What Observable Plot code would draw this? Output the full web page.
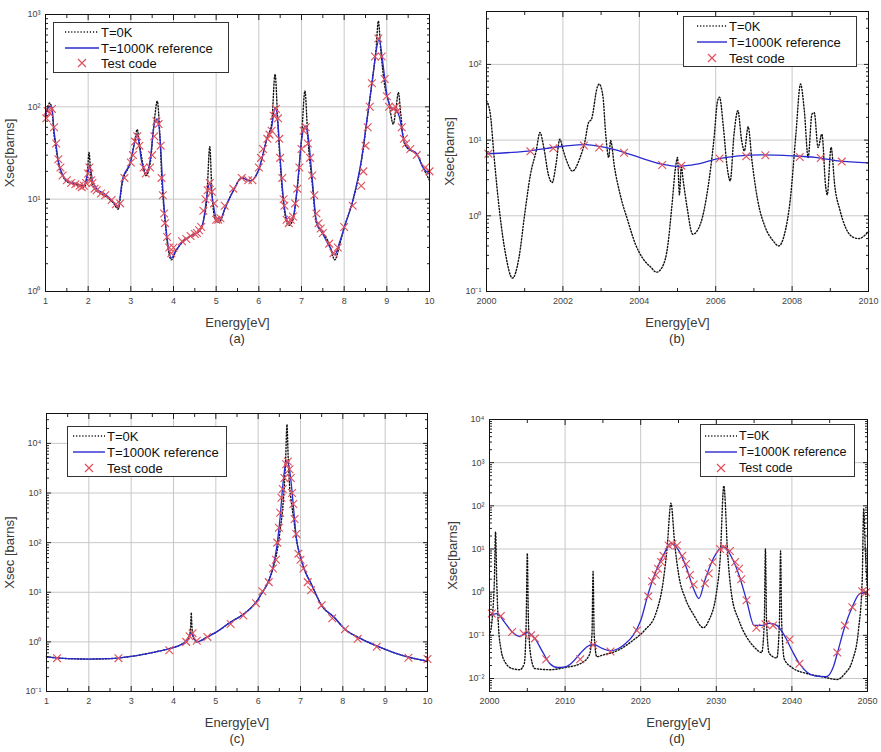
<!DOCTYPE html>
<html><head><meta charset="utf-8">
<script src="https://cdn.jsdelivr.net/npm/d3@7"></script>
<script src="https://cdn.jsdelivr.net/npm/@observablehq/plot@0.6"></script>
<style>
body{margin:0;background:#fff;font-family:"Liberation Sans",Arial,sans-serif}
#root{position:relative;width:881px;height:752px;overflow:hidden;background:#fff}
.panel{position:absolute}
.cap{position:absolute;font-size:13px;color:#333;transform:translate(-50%,-50%);white-space:nowrap}
.legend{position:absolute;border:1.5px solid #333;background:#fff;box-sizing:border-box}
.legend .row{position:absolute;font-size:13px;color:#111;line-height:1;transform:translateY(-50%);white-space:nowrap}
.legend svg{position:absolute;left:0;top:0;overflow:visible}
</style></head><body><div id="root"></div>
<script>
// ---------- Panel (a): 1-10 eV ----------
const a0K = [[1.0,80],[1.05,100],[1.1,110],[1.15,95],[1.2,50],[1.25,35],[1.3,25],[1.4,18],[1.5,15.5],[1.7,14.5],[1.9,13.5],[1.97,16],[2.02,32],[2.07,16],[2.15,13],[2.3,11.5],[2.5,10],[2.6,9],[2.7,7.8],[2.8,15],[3.0,26],[3.1,45],[3.15,57],[3.2,40],[3.3,22],[3.35,18],[3.45,24],[3.55,70],[3.62,115],[3.68,50],[3.73,15],[3.8,6],[3.85,3.5],[3.95,2.2],[4.05,2.7],[4.2,3.4],[4.4,4],[4.6,4.5],[4.7,5.8],[4.78,10],[4.85,37],[4.9,12],[4.98,6],[5.05,5.6],[5.1,5.8],[5.2,7.8],[5.4,12.3],[5.6,17],[5.8,15.8],[6.0,21],[6.2,47],[6.3,65],[6.38,226],[6.45,60],[6.5,25],[6.6,7.5],[6.7,5.2],[6.8,6],[6.9,13],[7.0,45],[7.08,148],[7.15,45],[7.25,15],[7.35,5.5],[7.5,4.3],[7.65,3.3],[7.78,2.2],[7.9,3.3],[8.0,4.9],[8.2,9.5],[8.4,25],[8.55,80],[8.65,180],[8.75,430],[8.8,850],[8.86,400],[8.95,170],[9.05,110],[9.15,65],[9.22,100],[9.27,143],[9.33,80],[9.4,42],[9.5,35],[9.7,31],[9.85,22],[10,16]];
const a1000K = [[1.0,80],[1.05,95],[1.1,102],[1.15,98],[1.2,55],[1.25,38],[1.3,26],[1.4,18.5],[1.5,15.8],[1.7,14.8],[1.9,14],[2.0,20],[2.04,23],[2.1,16],[2.2,13],[2.4,11.3],[2.6,9.2],[2.7,8.1],[2.8,16],[3.0,26],[3.1,43],[3.15,50],[3.25,26],[3.35,19],[3.45,26],[3.55,65],[3.62,74],[3.7,36],[3.75,13],[3.8,6.3],[3.85,3.8],[3.95,2.3],[4.05,2.75],[4.2,3.4],[4.4,4],[4.6,4.5],[4.7,5.8],[4.8,12.3],[4.85,15],[4.92,9.6],[5.0,6.3],[5.1,6.1],[5.2,7.8],[5.4,12.3],[5.6,17],[5.8,15.8],[6.0,21],[6.2,47],[6.3,60],[6.38,98],[6.45,65],[6.5,28],[6.6,8.1],[6.7,5.6],[6.8,6.3],[6.9,13.4],[7.0,43],[7.08,62],[7.15,50],[7.25,17],[7.35,5.8],[7.5,4.2],[7.65,3.1],[7.78,2.5],[7.9,3.5],[8.0,4.9],[8.2,9.6],[8.4,26],[8.55,83],[8.65,177],[8.75,405],[8.82,540],[8.9,315],[9.0,137],[9.1,98],[9.2,94],[9.3,76],[9.4,43],[9.5,36],[9.7,31],[9.85,22],[10,18.6]];
const aTest = [[1.02,75],[1.05,90],[1.1,85],[1.15,95],[1.2,60],[1.25,40],[1.3,27],[1.35,22],[1.4,18],[1.5,16],[1.6,15],[1.7,14.5],[1.8,14],[1.85,13.5],[1.9,14],[1.95,15],[2.0,19],[2.03,22],[2.07,16],[2.1,15],[2.15,13],[2.2,12.5],[2.3,11.5],[2.4,11],[2.55,9.8],[2.65,8.8],[2.75,9],[2.85,17],[3.0,25],[3.05,30],[3.1,42],[3.15,48],[3.2,38],[3.3,22],[3.35,19],[3.45,22],[3.5,30],[3.55,48],[3.6,70],[3.65,65],[3.7,38],[3.72,17],[3.75,11],[3.78,7],[3.8,5.5],[3.85,3.9],[3.9,3.0],[3.95,2.6],[4.0,3.0],[4.2,3.5],[4.3,3.7],[4.4,4.0],[4.5,4.2],[4.55,4.3],[4.6,4.6],[4.65,5],[4.7,7.5],[4.75,10],[4.8,12.5],[4.85,15],[4.9,12],[4.95,9],[5.0,6],[5.05,6],[5.1,6.2],[5.2,8.5],[5.4,13],[5.6,17],[5.75,16],[5.85,16],[6.0,22],[6.05,28],[6.1,35],[6.2,45],[6.25,50],[6.3,55],[6.35,80],[6.4,95],[6.45,75],[6.48,45],[6.5,28],[6.55,17],[6.58,10],[6.6,8.5],[6.65,6],[6.7,5.5],[6.75,6],[6.8,6.5],[6.85,9],[6.9,13],[6.95,22],[7.0,35],[7.05,55],[7.1,60],[7.15,40],[7.2,28],[7.25,18],[7.3,11],[7.35,7],[7.4,5.5],[7.45,4.8],[7.5,4.3],[7.65,3.3],[7.75,2.6],[7.85,3.0],[8.0,5],[8.2,8.5],[8.4,14],[8.45,20],[8.5,38],[8.55,60],[8.6,100],[8.65,180],[8.72,350],[8.8,550],[8.88,350],[8.95,200],[9.0,130],[9.05,100],[9.15,95],[9.2,100],[9.25,90],[9.35,60],[9.4,45],[9.45,40],[9.55,35],[9.7,30],[9.9,22],[10,20]];
const aXTicks = [1,2,3,4,5,6,7,8,9,10];
const aXMinor = [1.5,2.5,3.5,4.5,5.5,6.5,7.5,8.5,9.5];
const aYTicks = [1,10,100,1000];
const aYDomain = [1,1000];

// ---------- Panel (b): 2000-2010 eV ----------
const b0K = [[2000,33],[2000.1,22],[2000.2,5.9],[2000.35,1.05],[2000.5,0.31],[2000.68,0.15],[2000.85,0.28],[2001,1.05],[2001.15,3.5],[2001.3,7.2],[2001.4,12.6],[2001.5,8],[2001.62,3.5],[2001.72,2.75],[2001.82,4.8],[2001.92,10.3],[2002,7.6],[2002.1,5.3],[2002.25,3.9],[2002.45,5.9],[2002.58,9.8],[2002.67,17],[2002.75,19],[2002.9,50],[2002.95,55],[2003.05,37],[2003.12,12],[2003.2,5.9],[2003.25,9.8],[2003.35,4.4],[2003.5,1.9],[2003.7,0.86],[2003.9,0.42],[2004.1,0.27],[2004.3,0.21],[2004.45,0.18],[2004.6,0.21],[2004.75,0.42],[2004.85,1.3],[2004.95,4.4],[2005,5.9],[2005.05,1.9],[2005.1,4.4],[2005.15,2.9],[2005.25,1.3],[2005.4,0.57],[2005.6,0.78],[2005.8,2.4],[2005.95,9.8],[2006.05,33],[2006.1,37],[2006.2,15],[2006.3,4.4],[2006.38,2.9],[2006.48,12],[2006.58,24.5],[2006.68,9.8],[2006.75,7.2],[2006.85,15],[2006.95,5.3],[2007.1,1.6],[2007.3,0.7],[2007.5,0.47],[2007.65,0.4],[2007.8,0.57],[2007.95,1.6],[2008.1,12],[2008.22,55],[2008.32,24.5],[2008.42,5.9],[2008.52,22],[2008.58,23],[2008.68,8],[2008.78,12],[2008.88,2.4],[2008.92,1.9],[2009.02,8],[2009.12,2.4],[2009.25,1.2],[2009.4,0.7],[2009.6,0.52],[2009.75,0.5],[2009.9,0.55],[2010,0.62]];
const b1000K = [[2000,6.6],[2001,7.1],[2002,8.3],[2002.6,8.7],[2003,8.2],[2003.6,6.9],[2004,5.9],[2004.6,4.8],[2005,4.5],[2005.5,4.8],[2006,5.6],[2006.6,6.2],[2007.2,6.4],[2008,6.2],[2008.6,5.9],[2009.2,5.3],[2010,5.0]];
const bTest = [[2000.05,6.6],[2001.15,7.1],[2001.75,7.8],[2002.55,8.5],[2002.95,8.0],[2003.6,6.8],[2004.6,4.7],[2005.1,4.6],[2006.1,5.7],[2006.8,6.1],[2007.3,6.3],[2008.2,6.0],[2008.75,5.8],[2009.3,5.2]];
const bXTicks = [2000,2002,2004,2006,2008,2010];
const bXMinor = [2001,2003,2005,2007,2009];
const bYTicks = [0.1,1,10,100];
const bYDomain = [0.1,500];

// ---------- Panel (c): 1-10 eV ----------
const c0K = [[1,0.5],[1.5,0.46],[2,0.45],[2.5,0.46],[3,0.51],[3.5,0.61],[3.9,0.73],[4.2,0.9],[4.3,1.0],[4.38,1.3],[4.41,2.5],[4.42,3.9],[4.43,2.5],[4.46,1.3],[4.55,1.0],[4.8,1.26],[5,1.55],[5.35,2.5],[5.65,3.6],[5.95,6.3],[6.1,10],[6.25,17],[6.35,30],[6.45,70],[6.52,180],[6.58,500],[6.62,1500],[6.65,5000],[6.68,24000],[6.71,5000],[6.74,1500],[6.78,700],[6.84,300],[6.9,120],[7,51],[7.1,27.5],[7.25,15],[7.5,5.4],[7.8,3.1],[8.05,1.8],[8.4,1.19],[8.8,0.83],[9.2,0.61],[9.6,0.48],[10,0.41]];
const c1000K = [[1,0.5],[1.5,0.46],[2,0.45],[2.5,0.46],[3,0.51],[3.5,0.61],[3.9,0.73],[4.2,0.9],[4.3,1.05],[4.42,1.48],[4.5,1.13],[4.55,1.0],[4.8,1.26],[5,1.55],[5.35,2.5],[5.65,3.6],[5.95,6.3],[6.1,10],[6.25,17],[6.35,32],[6.45,95],[6.52,330],[6.58,1350],[6.63,3200],[6.68,4300],[6.73,3400],[6.78,1580],[6.84,450],[6.9,130],[7,51],[7.1,27.5],[7.25,15],[7.5,5.4],[7.8,3.1],[8.05,1.8],[8.4,1.19],[8.8,0.83],[9.2,0.61],[9.6,0.48],[10,0.41]];
const cTest = [[1.25,0.47],[2.7,0.47],[3.9,0.68],[4.3,1.0],[4.38,1.3],[4.45,1.5],[4.55,1.05],[4.8,1.26],[5.35,2.3],[5.65,3.4],[5.95,6],[6.1,10.5],[6.25,16],[6.35,30],[6.42,45],[6.45,100],[6.49,200],[6.52,400],[6.55,800],[6.58,1200],[6.62,2000],[6.66,3800],[6.7,4300],[6.74,3000],[6.77,2000],[6.8,1000],[6.83,600],[6.86,300],[6.9,150],[6.95,60],[7.0,45],[7.07,30],[7.17,16],[7.25,11],[7.5,5.5],[7.75,3],[8.05,1.8],[8.35,1.15],[8.8,0.8],[9.55,0.48],[10,0.45]];
const cXTicks = [1,2,3,4,5,6,7,8,9,10];
const cXMinor = [1.5,2.5,3.5,4.5,5.5,6.5,7.5,8.5,9.5];
const cYTicks = [0.1,1,10,100,1000,10000];
const cYDomain = [0.1,40000];

// ---------- Panel (d): 2000-2050 eV ----------
const d0K = [[2000,0.1],[2000.4,0.3],[2000.65,2],[2000.8,25],[2000.95,2],[2001.2,0.15],[2001.5,0.05],[2002,0.025],[2003,0.017],[2004,0.016],[2004.6,0.022],[2004.85,0.2],[2005,8],[2005.15,0.2],[2005.5,0.03],[2006,0.017],[2008,0.016],[2010,0.018],[2012,0.022],[2013.2,0.035],[2013.55,0.1],[2013.7,3],[2013.85,0.1],[2014.2,0.032],[2015,0.035],[2017,0.045],[2019,0.077],[2020.5,0.13],[2022,0.32],[2023,1.9],[2023.5,11],[2024,115],[2024.5,13],[2025,2.7],[2026,0.65],[2027,0.3],[2028.3,0.15],[2029,0.22],[2030,0.93],[2030.5,5.5],[2031,290],[2031.5,7.9],[2032,0.93],[2033,0.22],[2034,0.092],[2035,0.054],[2036,0.04],[2036.35,0.2],[2036.5,10],[2036.65,0.2],[2037,0.038],[2038,0.03],[2038.35,0.2],[2038.5,9],[2038.65,0.2],[2039,0.028],[2040,0.018],[2042,0.013],[2044,0.011],[2046,0.0095],[2047,0.013],[2048,0.026],[2048.8,0.13],[2049.3,1.9],[2049.5,87],[2049.7,11],[2050,0.93]];
const d1000K = [[2000,0.29],[2001,0.32],[2002,0.2],[2003,0.12],[2004,0.095],[2005,0.115],[2006,0.085],[2007,0.042],[2008,0.022],[2009,0.018],[2010,0.0185],[2011,0.024],[2012,0.038],[2013,0.056],[2013.7,0.062],[2015,0.049],[2016,0.044],[2017,0.049],[2018,0.065],[2019,0.1],[2020,0.22],[2021,0.93],[2022,3.0],[2023,7.2],[2024,13.5],[2025,9.4],[2026,3.9],[2027,1.2],[2027.7,0.71],[2028.5,1.9],[2029.5,5.5],[2030.5,10.3],[2031,11.3],[2032,6.6],[2033,2.5],[2034,0.65],[2035,0.17],[2036,0.17],[2037,0.19],[2038,0.17],[2039,0.1],[2040,0.045],[2041,0.022],[2042,0.014],[2043,0.0115],[2044.5,0.011],[2045.5,0.019],[2046,0.038],[2047,0.16],[2048,0.46],[2049,0.93],[2050,0.97]];
const dTest = [[2000.3,0.32],[2001.5,0.28],[2003,0.12],[2004.5,0.11],[2005.5,0.1],[2006,0.085],[2007.5,0.028],[2012,0.028],[2013.7,0.06],[2016,0.042],[2019.5,0.13],[2021,0.8],[2021.5,1.8],[2022,2.5],[2022.3,3.5],[2022.7,5],[2023,7],[2023.7,12],[2024.2,13],[2024.8,12],[2025.5,7],[2026,4.5],[2026.5,2.5],[2027,1.5],[2028.5,1.6],[2029,2.7],[2029.5,5],[2030.5,10],[2031,11],[2031.8,9],[2032.5,5],[2033,3.5],[2033.3,2],[2034,0.65],[2035.3,0.15],[2036.5,0.18],[2037.5,0.17],[2039.7,0.08],[2041,0.022],[2046,0.04],[2047,0.17],[2048,0.45],[2049.3,1.05],[2049.8,1.0]];
const dXTicks = [2000,2010,2020,2030,2040,2050];
const dXMinor = [2005,2015,2025,2035,2045];
const dYTicks = [0.01,0.1,1,10,100,1000,10000];
const dYDomain = [0.005,10000];

const legendLabels = ["T=0K","T=1000K reference","Test code"];
const panelLetters = ["(a)","(b)","(c)","(d)"];

// ---------- helpers ----------
const SUP = {"-":"\u207B","0":"\u2070","1":"\u00B9","2":"\u00B2","3":"\u00B3","4":"\u2074"};
const pow10 = d => "10" + String(Math.round(Math.log10(d))).split("").map(c => SUP[c]).join("");
function logMinors(lo, hi) {
  const out = [];
  for (let e = Math.floor(Math.log10(lo)); e < Math.ceil(Math.log10(hi)); e++)
    for (let m = 2; m <= 9; m++) { const v = m * Math.pow(10, e); if (v >= lo && v <= hi) out.push(v); }
  return out;
}
const FONT = "'Liberation Sans', Arial, sans-serif";
const root = document.getElementById("root");
const DASH = "1.2,1.9";

function makePanel(cfg) {
  const yMinor = logMinors(cfg.yDomain[0], cfg.yDomain[1]);
  const X = d => d[0], Y = d => d[1];
  const blank = () => "";
  const plain = d => String(d);
  const tickCol = "#222";
  const plot = Plot.plot({
    width: cfg.width, height: cfg.height,
    marginLeft: cfg.m[0], marginRight: cfg.m[1], marginTop: cfg.m[2], marginBottom: cfg.m[3],
    x: {domain: cfg.xDomain},
    y: {type: "log", domain: cfg.yDomain},
    style: {fontFamily: FONT, fontSize: "13px", color: "#333", background: "#fff", overflow: "visible"},
    marks: [
      Plot.gridX(cfg.xTicks, {stroke: "#c8c8c8", strokeOpacity: 1}),
      Plot.gridY(cfg.yTicks, {stroke: "#c8c8c8", strokeOpacity: 1}),
      Plot.line(cfg.cold, {x: X, y: Y, stroke: "#111", strokeWidth: 1.4, strokeDasharray: DASH, curve: "monotone-x"}),
      Plot.line(cfg.warm, {x: X, y: Y, stroke: "#2a2ad0", strokeWidth: 1.3, curve: "monotone-x"}),
      Plot.dot(cfg.test, {x: X, y: Y, symbol: "times", r: 3.6, stroke: "#e0505c", strokeWidth: 1.1}),
      // tick labels
      Plot.axisX(cfg.xTicks, {anchor: "bottom", tickSize: 0, tickPadding: 6, fontSize: 9, fill: "#444", tickFormat: plain, label: null}),
      Plot.axisY(cfg.yTicks, {anchor: "left", tickSize: 0, tickPadding: 5, fontSize: 9, fill: "#444", tickFormat: pow10, label: null}),
      // axis titles
      Plot.axisX(cfg.xTicks, {anchor: "bottom", tickSize: 0, tickFormat: blank, fontSize: 13, fill: "#3a3a3a",
        label: "Energy[eV]", labelAnchor: "center", labelArrow: "none", labelOffset: cfg.xLabelOffset}),
      Plot.axisY(cfg.yTicks, {anchor: "left", tickSize: 0, tickFormat: blank, fontSize: 13, fill: "#3a3a3a",
        label: cfg.ylabel, labelAnchor: "center", labelArrow: "none", labelOffset: cfg.yLabelOffset}),
      // inward tick marks on all four sides
      Plot.axisX(cfg.xTicks, {anchor: "bottom", tickSize: -5, tickFormat: blank, label: null, stroke: tickCol}),
      Plot.axisX(cfg.xTicks, {anchor: "top", tickSize: -5, tickFormat: blank, label: null, stroke: tickCol}),
      Plot.axisX(cfg.xMinor, {anchor: "bottom", tickSize: -3, tickFormat: blank, label: null, stroke: tickCol}),
      Plot.axisX(cfg.xMinor, {anchor: "top", tickSize: -3, tickFormat: blank, label: null, stroke: tickCol}),
      Plot.axisY(cfg.yTicks, {anchor: "left", tickSize: -5, tickFormat: blank, label: null, stroke: tickCol}),
      Plot.axisY(cfg.yTicks, {anchor: "right", tickSize: -5, tickFormat: blank, label: null, stroke: tickCol}),
      Plot.axisY(yMinor, {anchor: "left", tickSize: -3, tickFormat: blank, label: null, stroke: tickCol}),
      Plot.axisY(yMinor, {anchor: "right", tickSize: -3, tickFormat: blank, label: null, stroke: tickCol}),
      Plot.frame({stroke: "#111", strokeWidth: 1})
    ]
  });
  const wrap = document.createElement("div");
  wrap.className = "panel";
  wrap.style.left = cfg.left + "px";
  wrap.style.top = cfg.top + "px";
  wrap.appendChild(plot);
  root.appendChild(wrap);

  const cap = document.createElement("div");
  cap.className = "cap";
  cap.textContent = cfg.letter;
  cap.style.left = cfg.cap[0] + "px";
  cap.style.top = cfg.cap[1] + "px";
  root.appendChild(cap);

  const L = cfg.legend;
  const lg = document.createElement("div");
  lg.className = "legend";
  lg.style.left = L.x + "px"; lg.style.top = L.y + "px";
  lg.style.width = L.w + "px"; lg.style.height = L.h + "px";
  const ns = "http://www.w3.org/2000/svg";
  const svg = document.createElementNS(ns, "svg");
  svg.setAttribute("width", L.w); svg.setAttribute("height", L.h);
  const mk = (tag, attrs) => { const e = document.createElementNS(ns, tag); for (const k in attrs) e.setAttribute(k, attrs[k]); svg.appendChild(e); return e; };
  mk("line", {x1: L.s0, x2: L.s1, y1: L.rows[0], y2: L.rows[0], stroke: "#111", "stroke-width": 1.4, "stroke-dasharray": DASH});
  mk("line", {x1: L.s0, x2: L.s1, y1: L.rows[1], y2: L.rows[1], stroke: "#2a2ad0", "stroke-width": 1.4});
  const cx = (L.s0 + L.s1) / 2, cy = L.rows[2], r = 4;
  mk("path", {d: `M${cx-r},${cy-r}L${cx+r},${cy+r}M${cx-r},${cy+r}L${cx+r},${cy-r}`, stroke: "#e0505c", "stroke-width": 1.2, fill: "none"});
  lg.appendChild(svg);
  legendLabels.forEach((t, i) => {
    const row = document.createElement("div");
    row.className = "row";
    row.textContent = t;
    row.style.left = L.tx + "px";
    row.style.top = L.rows[i] + "px";
    if (L.fs) row.style.fontSize = L.fs + "px";
    lg.appendChild(row);
  });
  root.appendChild(lg);
}

makePanel({letter: panelLetters[0], left: 0, top: 0, width: 440, height: 330, m: [45, 11, 14, 39],
  xDomain: [1, 10], xTicks: aXTicks, xMinor: aXMinor, yDomain: aYDomain, yTicks: aYTicks,
  cold: a0K, warm: a1000K, test: aTest, ylabel: "Xsec[barns]", yLabelOffset: 41, xLabelOffset: 35,
  cap: [237, 338],
  legend: {x: 53, y: 22, w: 176, h: 51, rows: [9, 25, 40], s0: 11, s1: 45, tx: 47}});

makePanel({letter: panelLetters[1], left: 440, top: 0, width: 441, height: 330, m: [46, 13, 11, 39],
  xDomain: [2000, 2010], xTicks: bXTicks, xMinor: bXMinor, yDomain: bYDomain, yTicks: bYTicks,
  cold: b0K, warm: b1000K, test: bTest, ylabel: "Xsec[barns]", yLabelOffset: 42, xLabelOffset: 35,
  cap: [677, 338],
  legend: {x: 683, y: 16, w: 174, h: 51, rows: [9, 25, 41], s0: 13, s1: 43, tx: 45}});

makePanel({letter: panelLetters[2], left: 0, top: 380, width: 440, height: 350, m: [46, 13, 33, 39],
  xDomain: [1, 10], xTicks: cXTicks, xMinor: cXMinor, yDomain: cYDomain, yTicks: cYTicks,
  cold: c0K, warm: c1000K, test: cTest, ylabel: "Xsec [barns]", yLabelOffset: 42, xLabelOffset: 35,
  cap: [237, 738],
  legend: {x: 67, y: 426, w: 160, h: 51, rows: [9, 25, 41], s0: 5, s1: 37, tx: 39}});

makePanel({letter: panelLetters[3], left: 440, top: 380, width: 441, height: 350, m: [49, 14, 39, 39],
  xDomain: [2000, 2050], xTicks: dXTicks, xMinor: dXMinor, yDomain: dYDomain, yTicks: dYTicks,
  cold: d0K, warm: d1000K, test: dTest, ylabel: "Xsec[barns]", yLabelOffset: 42, xLabelOffset: 35,
  cap: [677, 738],
  legend: {x: 700, y: 424, w: 155, h: 53, rows: [11, 27, 43], s0: 4, s1: 36, tx: 38, fs: 12.5}});
</script></body></html>
